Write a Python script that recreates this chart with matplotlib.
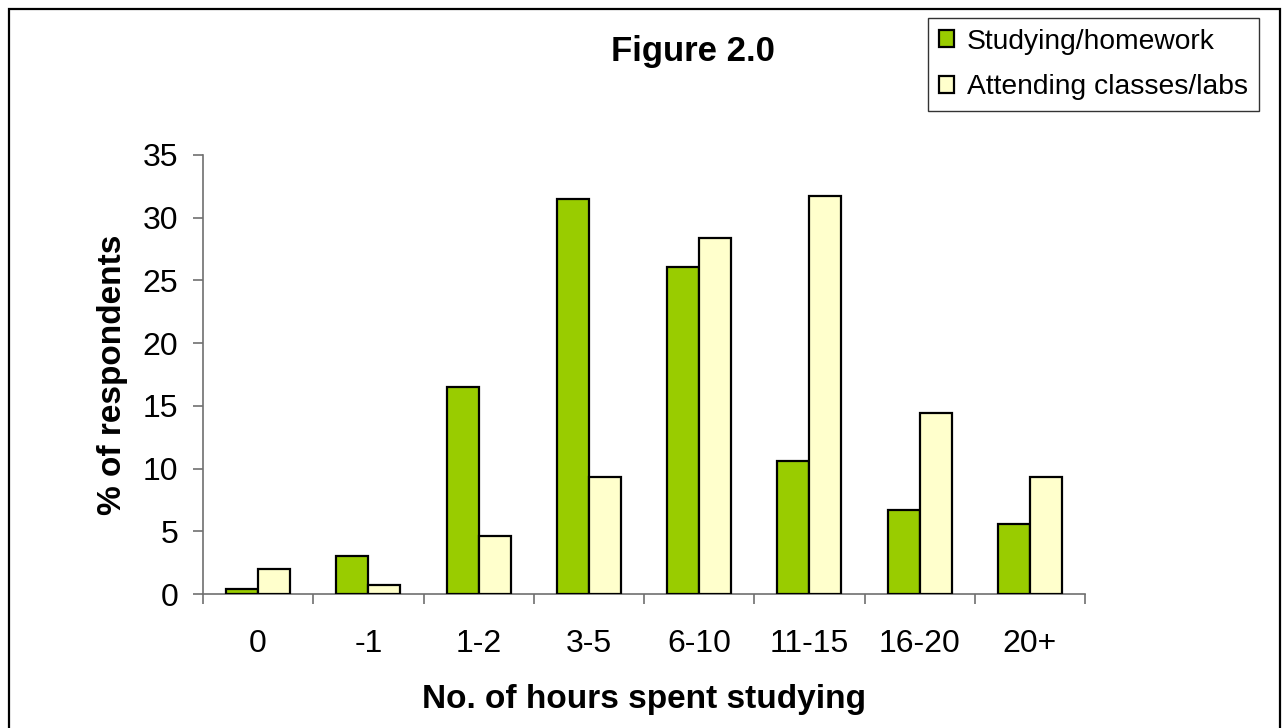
import numpy as np
import matplotlib
matplotlib.use("Agg")
import matplotlib.pyplot as plt
from matplotlib.patches import Rectangle

plt.rcParams["font.family"] = ["Liberation Sans", "DejaVu Sans"]

categories = ["0", "-1", "1-2", "3-5", "6-10", "11-15", "16-20", "20+"]
studying = [0.4, 3.0, 16.5, 31.5, 26.1, 10.6, 6.7, 5.6]
attending = [2.0, 0.7, 4.6, 9.3, 28.4, 31.7, 14.4, 9.3]
series_names = ["Studying/homework", "Attending classes/labs"]

W, H = 1287, 728
fig = plt.figure(figsize=(W / 100, H / 100), dpi=100)
ax = fig.add_axes([203 / W, 1 - 594 / H, (1085 - 203) / W, (594 - 155) / H])

x = np.arange(len(categories))
bw = 0.29
ax.bar(x - bw / 2, studying, bw, color="#99CC00", edgecolor="black",
       linewidth=1.6, label=series_names[0], zorder=3)
ax.bar(x + bw / 2, attending, bw, color="#FFFFCC", edgecolor="black",
       linewidth=1.6, label=series_names[1], zorder=3)

ax.set_xlim(-0.5, len(categories) - 0.5)
ax.set_ylim(0, 35)
ax.set_yticks(np.arange(0, 36, 5))
ax.set_xticks(x)
ax.set_xticklabels(categories)
ax.set_xticks(np.arange(-0.5, len(categories), 1), minor=True)

for s in ["top", "right"]:
    ax.spines[s].set_visible(False)
for s in ["left", "bottom"]:
    ax.spines[s].set_color("#707070")
    ax.spines[s].set_linewidth(1.2)

ax.tick_params(axis="y", length=7, width=1.2, color="#707070",
               labelsize=23, pad=11)
ax.tick_params(axis="x", which="major", length=0, labelsize=23, pad=25)
ax.tick_params(axis="x", which="minor", length=7, width=1.2, color="#707070")

ax.set_ylabel("% of respondents", fontsize=24, fontweight="bold", labelpad=10)
ax.set_xlabel("No. of hours spent studying", fontsize=24, fontweight="bold",
              labelpad=18)

fig.text(693 / W, 1 - 52 / H, "Figure 2.0", fontsize=25, fontweight="bold",
         ha="center", va="center")

leg = fig.legend(loc="upper left", bbox_to_anchor=(928 / W, 1 - 18 / H),
                 fontsize=20.3, frameon=True, fancybox=False,
                 handlelength=0.55, handleheight=0.55, handletextpad=0.45,
                 labelspacing=0.7, borderpad=0.38, borderaxespad=0)
leg.get_frame().set_edgecolor("black")
leg.get_frame().set_linewidth(1.0)

# outer chart border
fig.patches.append(Rectangle((9 / W, -0.02), (1280 - 9) / W, 1.02 - 9 / H,
                             transform=fig.transFigure, fill=False,
                             edgecolor="black", linewidth=1.6))

fig.savefig("out.png", dpi=100)
